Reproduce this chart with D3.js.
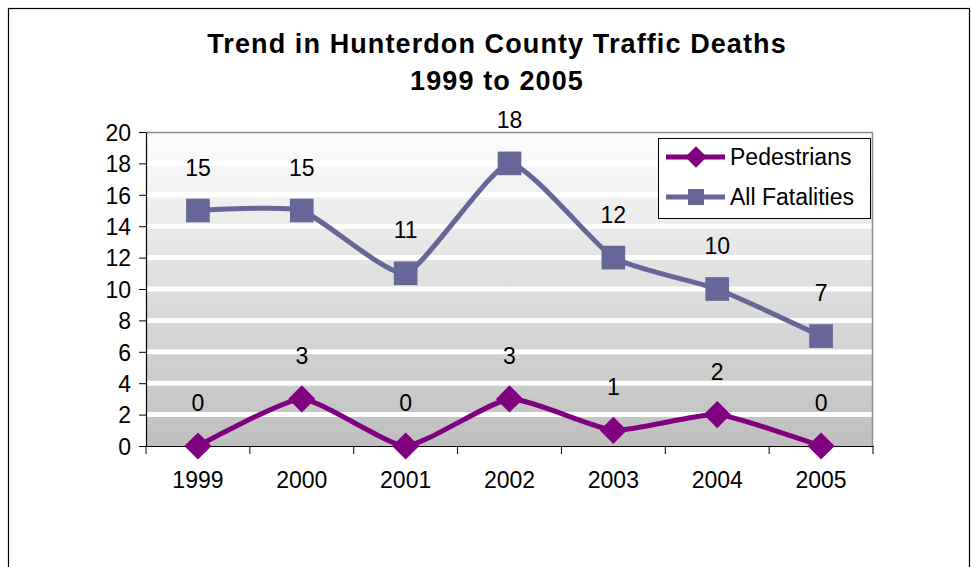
<!DOCTYPE html>
<html>
<head>
<meta charset="utf-8">
<script src="https://cdn.jsdelivr.net/npm/d3@7"></script>
<style>
  body { margin: 0; background: #fff; }
  text { font-family: Arial, "Liberation Sans", sans-serif; fill: #000; }
</style>
</head>
<body>
<script>
// data
var years = ["1999", "2000", "2001", "2002", "2003", "2004", "2005"];
var pedestrians = [0, 3, 0, 3, 1, 2, 0];
var allFatalities = [15, 15, 11, 18, 12, 10, 7];
var yTicks = [0, 2, 4, 6, 8, 10, 12, 14, 16, 18, 20];
var titleLines = ["Trend in Hunterdon County Traffic Deaths", "1999 to 2005"];

// set the dimensions and margins of the plot area
var margin = {top: 132, right: 98, bottom: 121, left: 146},
    W = 971, H = 567,
    width = W - margin.left - margin.right,
    height = H - margin.top - margin.bottom;

var svg = d3.select("body").append("svg")
    .attr("width", W)
    .attr("height", H);

// outer chart frame
svg.append("rect")
    .attr("x", 8.5).attr("y", 8.5)
    .attr("width", 961).attr("height", 600)
    .attr("fill", "none").attr("stroke", "#000").attr("stroke-width", 1.2);

// title
svg.selectAll(".title")
    .data(titleLines)
  .enter().append("text")
    .attr("class", "title")
    .attr("x", 497)
    .attr("y", function(d, i) { return 53 + i * 37; })
    .attr("text-anchor", "middle")
    .style("font-size", "27px")
    .style("font-weight", "bold")
    .style("letter-spacing", "1.1px")
    .text(function(d) { return d; });

// gradient for plot area
var grad = svg.append("defs").append("linearGradient")
    .attr("id", "bg").attr("x1", 0).attr("y1", 0).attr("x2", 0).attr("y2", 1);
grad.append("stop").attr("offset", "0%").attr("stop-color", "#fdfdfd");
grad.append("stop").attr("offset", "100%").attr("stop-color", "#bfbfbf");

var g = svg.append("g")
    .attr("transform", "translate(" + margin.left + "," + margin.top + ")");

// set the ranges
var x = d3.scaleBand().domain(years).range([0, width]);
var y = d3.scaleLinear().domain([0, 20]).range([height, 0]);
var cx = function(d, i) { return x(years[i]) + x.bandwidth() / 2; };

g.append("rect")
    .attr("width", width).attr("height", height)
    .attr("fill", "url(#bg)");

// white gridlines
g.selectAll(".grid")
    .data(yTicks.filter(function(d) { return d > 0 && d < 20; }))
  .enter().append("line")
    .attr("x1", 0).attr("x2", width)
    .attr("y1", function(d) { return y(d); })
    .attr("y2", function(d) { return y(d); })
    .attr("stroke", "#fff").attr("stroke-width", 5);

// plot area border (top and right)
g.append("path")
    .attr("d", "M0,0.5H" + (width - 0.5) + "V" + height)
    .attr("fill", "none").attr("stroke", "#8c8c8c").attr("stroke-width", 1.5);

// Y axis
var yAxis = g.append("g")
    .call(d3.axisLeft(y).tickValues(yTicks).tickSize(7).tickPadding(8).tickSizeOuter(0));
yAxis.selectAll("text").style("font-size", "23px").attr("dy", "0.36em");

// X axis with ticks between categories
var xAxis = g.append("g")
    .attr("transform", "translate(0," + height + ")")
    .call(d3.axisBottom(x).tickSize(0).tickPadding(26).tickSizeOuter(0));
xAxis.selectAll("text").style("font-size", "23px");
xAxis.selectAll(".sep")
    .data(d3.range(years.length + 1))
  .enter().append("line")
    .attr("x1", function(d) { return d * x.step(); })
    .attr("x2", function(d) { return d * x.step(); })
    .attr("y1", 0).attr("y2", 8)
    .attr("stroke", "#000");
g.selectAll(".domain").attr("stroke", "#000").attr("stroke-width", 1.2);

// lines (diamond = square turned 45 degrees)
var series = [
  {name: "Pedestrians", values: pedestrians, color: "#800080", rot: 45, size: 370, legendSize: 230},
  {name: "All Fatalities", values: allFatalities, color: "#666699", rot: 0, size: 560, legendSize: 256}
];

var line = d3.line()
    .x(cx)
    .y(function(d) { return y(d); })
    .curve(d3.curveCardinal.tension(0.5));

series.forEach(function(s) {
  g.append("path")
      .datum(s.values)
      .attr("fill", "none")
      .attr("stroke", s.color)
      .attr("stroke-width", 5)
      .attr("d", line);

  g.selectAll(null)
      .data(s.values)
    .enter().append("path")
      .attr("d", d3.symbol().type(d3.symbolSquare).size(s.size))
      .attr("transform", function(d, i) {
        return "translate(" + cx(d, i) + "," + y(d) + ") rotate(" + s.rot + ")";
      })
      .attr("fill", s.color);

  g.selectAll(null)
      .data(s.values)
    .enter().append("text")
      .attr("x", cx)
      .attr("y", function(d) { return y(d) - 35; })
      .attr("text-anchor", "middle")
      .style("font-size", "23px")
      .text(function(d) { return d; });
});

// legend
var legend = svg.append("g").attr("transform", "translate(658,138)");
legend.append("rect")
    .attr("x", 0.5).attr("y", 0.5)
    .attr("width", 212).attr("height", 80)
    .attr("fill", "#fff").attr("stroke", "#000");
var item = legend.selectAll(".item")
    .data(series)
  .enter().append("g")
    .attr("transform", function(d, i) { return "translate(0," + (19 + i * 40) + ")"; });
item.append("line")
    .attr("x1", 8).attr("x2", 67)
    .attr("stroke", function(d) { return d.color; })
    .attr("stroke-width", 5);
item.append("path")
    .attr("transform", function(d) { return "translate(38,0) rotate(" + d.rot + ")"; })
    .attr("d", function(d) { return d3.symbol().type(d3.symbolSquare).size(d.legendSize)(); })
    .attr("fill", function(d) { return d.color; });
item.append("text")
    .attr("x", 72)
    .attr("y", 8)
    .style("font-size", "23px")
    .text(function(d) { return d.name; });
</script>
</body>
</html>
